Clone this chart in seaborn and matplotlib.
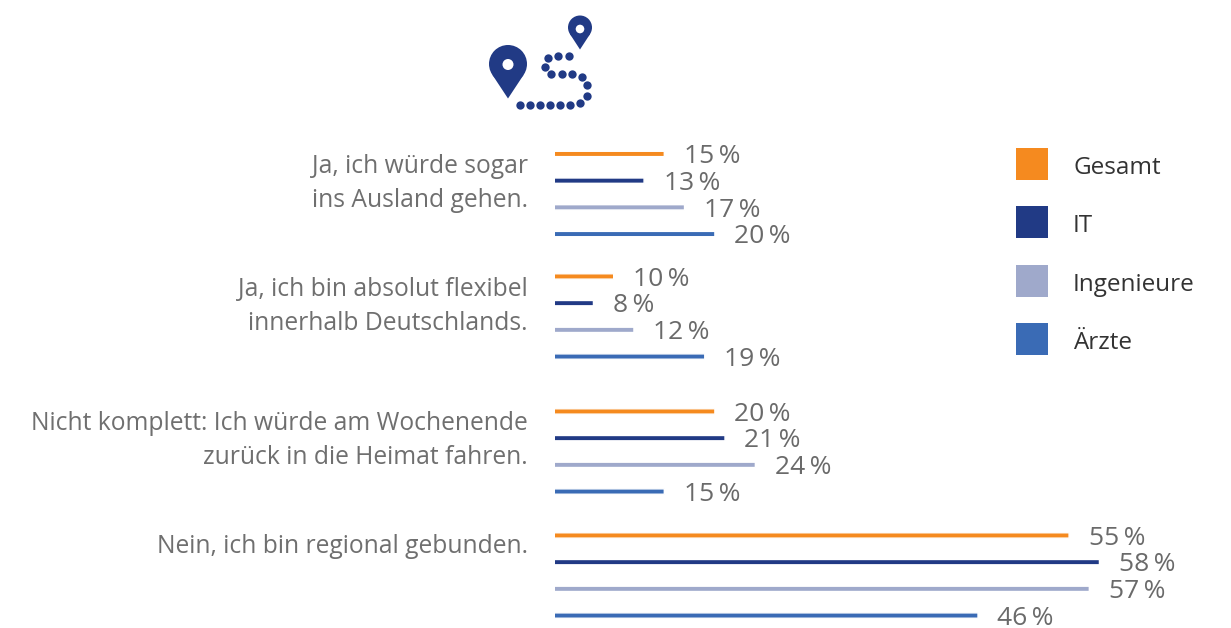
import matplotlib as mpl
import matplotlib.pyplot as plt
import numpy as np
import pandas as pd
import seaborn as sns
from matplotlib.patches import Circle, Patch, Polygon

mpl.use('Agg')

# data
answers = ['Ja, ich würde sogar\nins Ausland gehen.',
           'Ja, ich bin absolut flexibel\ninnerhalb Deutschlands.',
           'Nicht komplett: Ich würde am Wochenende\nzurück in die Heimat fahren.',
           'Nein, ich bin regional gebunden.']
series = ['Gesamt', 'IT', 'Ingenieure', 'Ärzte']
gesamt = [15, 10, 20, 55]
it = [13, 8, 21, 58]
ingenieure = [17, 12, 24, 57]
aerzte = [20, 19, 15, 46]

colors = ['#F58A1F', '#213A85', '#9FA9CB', '#3A6BB5']

# layout in pixels of the 1231x628 picture
W, H = 1231, 628
group_centers = [194, 316.5, 451.5, 575.5]
text_tops = [154, 277, 411, 534]
row_pitch = 26.7
bar_left = 555
px_per_percent = 10.12
axis_start = 4.2  # the bars do not start at zero in the original

sns.set_theme(style='white')
plt.rcParams['font.family'] = ['Open Sans', 'DejaVu Sans']
palette = dict(zip(series, colors))

df = pd.DataFrame({'answer': np.repeat(answers, 4),
                   'series': series * 4,
                   'value': np.array([gesamt, it, ingenieure, aerzte]).T.ravel()})

fig = plt.figure(figsize=(W / 100, H / 100), dpi=100)

# overlay in pixel coordinates for texts and the icon
overlay = fig.add_axes([0, 0, 1, 1])
overlay.set_xlim(0, W)
overlay.set_ylim(H, 0)
overlay.axis('off')

for answer, center, top in zip(answers, group_centers, text_tops):
    height = row_pitch * 4
    ax = fig.add_axes([bar_left / W, 1 - (center + height / 2) / H, (W - bar_left) / W, height / H])
    ax.patch.set_alpha(0)
    sns.barplot(data=df[df['answer'] == answer], x='value', y='series', hue='series',
                order=series, hue_order=series, palette=palette, width=0.2, saturation=1,
                dodge=False, legend=False, ax=ax)
    ax.set_xlim(axis_start, axis_start + (W - bar_left) / px_per_percent)
    ax.set_ylim(3.5, -0.5)
    ax.axis('off')
    for container in ax.containers:
        for bar in container:
            bar.set_snap(False)  # keeps all bars the same thickness
        labels = ax.bar_label(container, fmt='%d\u2009%%', padding=14, fontsize=19, color='#6a6a6a')
        for label in labels:
            label.xyann = (14, -2)
    overlay.text(528, top, answer, ha='right', va='top', ma='right', fontsize=17.7, color='#6f6f6f',
                 linespacing=1.46)

# legend
handles = [Patch(facecolor=c, edgecolor='none') for c in colors]
legend = fig.legend(handles, series, loc='upper left', bbox_to_anchor=(1004 / W, 1 - 136 / H), frameon=False,
                    fontsize=17.5, labelcolor='#333333', handlelength=1.31, handleheight=1.645,
                    labelspacing=1.086, handletextpad=1.03, borderpad=0.5, borderaxespad=0)
for t in legend.get_texts():
    t.set_y(-2)


# icon: two map pins joined by a dotted path
def draw_pin(x, y, r, tip, hole_y, hole_r):
    d = tip - y
    a = np.arcsin(r / d)
    tx = r * np.cos(a)
    ty = r * np.sin(a)
    overlay.add_patch(Circle((x, y), r, fc='#213A85', ec='none'))
    overlay.add_patch(Polygon([(x - tx, y + ty), (x + tx, y + ty), (x, tip)], fc='#213A85', ec='none'))
    overlay.add_patch(Circle((x, hole_y), hole_r, fc='white', ec='none', zorder=3))


draw_pin(508, 64, 19, 98.5, 64.5, 5.5)
draw_pin(580, 27.5, 12, 49.5, 29, 4.3)
dots_x = [520, 530, 540, 550, 560, 570, 580, 587, 587, 582, 572, 562, 551, 545, 548, 558, 569]
dots_y = [105, 105, 105, 105, 105, 105, 103, 96, 85, 77, 74, 74, 74, 67, 58, 56, 56]
overlay.scatter(dots_x, dots_y, s=36, color='#213A85', linewidths=0)

fig.savefig('out.png', dpi=100)
plt.close()
